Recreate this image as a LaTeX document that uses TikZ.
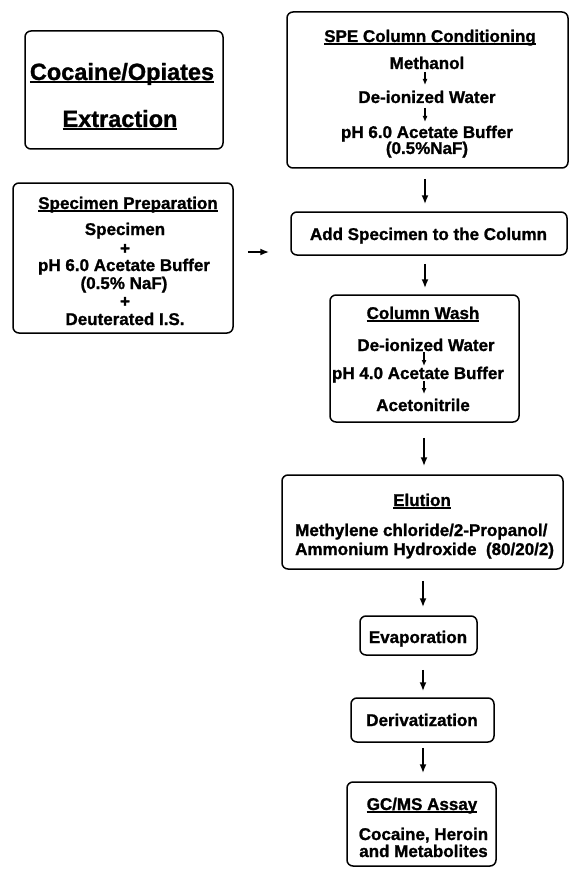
\documentclass[tikz,border=0pt]{standalone}
\usepackage{fontspec}
\setmainfont{Liberation Sans}[BoldFeatures={FakeBold=1.2}]
\usetikzlibrary{arrows.meta}
\newcommand\ulx[3]{\setbox0\hbox{#3}\rlap{\rule[#1]{\wd0}{#2}}\box0}
\tikzset{
  boxx/.style={draw, line width=1.5pt, rounded corners=6pt, inner sep=0pt},
  txt/.style={font=\bfseries\fontsize{17}{17}\selectfont, anchor=base, inner sep=0pt},
  ttl/.style={font=\bfseries\fontsize{23.5}{24}\selectfont, anchor=base, inner sep=0pt},
  bigarr/.style={line width=1.9pt, -{Latex[length=9pt,width=7pt]}},
  smallarr/.style={line width=1.3pt, -{Latex[length=6pt,width=5pt]}}
}
\begin{document}
\begin{tikzpicture}[x=1pt,y=-1pt]
\useasboundingbox (0,0) rectangle (569,869);
% title
\node[boxx, minimum width=198pt, minimum height=118pt] (title) at (124,90) {};
\node[ttl] (t1) at (122,80) {\ulx{-3.5pt}{2.2pt}{Cocaine/Opiates}};
\node[ttl] (t2) at (120,127) {\ulx{-3.5pt}{2.2pt}{Extraction}};
% SPE conditioning
\node[boxx, minimum width=281pt, minimum height=156pt] (spe) at (427.5,90) {};
\node[txt] (s0) at (430,42) {\ulx{-2.8pt}{1.5pt}{SPE Column Conditioning}};
\node[txt] (s1) at (427,69) {Methanol};
\node[txt] (s2) at (427,103) {De-ionized Water};
\node[txt] (s3) at (427,138) {pH 6.0 Acetate Buffer};
\node[txt] (s4) at (427,154) {(0.5\%NaF)};
\draw[smallarr, shorten <=3pt, shorten >=18pt] (s1.base -| 425,0) -- (s2.base -| 425,0);
\draw[smallarr, shorten <=5pt, shorten >=16pt] (s2.base -| 425,0) -- (s3.base -| 425,0);
% Add specimen
\node[boxx, minimum width=276pt, minimum height=43pt] (add) at (429,233.5) {};
\node[txt] (a1) at (428.5,240) {Add Specimen to the Column};
% specimen preparation
\node[boxx, minimum width=220pt, minimum height=150pt] (spec) at (123,258) {};
\node[txt] (p0) at (128,209) {\ulx{-2.8pt}{1.5pt}{Specimen Preparation}};
\node[txt] (p1) at (125,235) {Specimen};
\node[txt] (p2) at (125,254) {+};
\node[txt] (p3) at (124,271) {pH 6.0 Acetate Buffer};
\node[txt] (p4) at (124,289) {(0.5\% NaF)};
\node[txt] (p5) at (125,307) {+};
\node[txt] (p6) at (125,325) {Deuterated I.S.};
% column wash
\node[boxx, minimum width=189pt, minimum height=127pt] (wash) at (424.5,358.5) {};
\node[txt] (w0) at (423,319) {\ulx{-2.8pt}{1.5pt}{Column Wash}};
\node[txt] (w1) at (426,351) {De-ionized Water};
\node[txt] (w2) at (418,379) {pH 4.0 Acetate Buffer};
\node[txt] (w3) at (423,411) {Acetonitrile};
\draw[smallarr, shorten <=1pt, shorten >=13pt] (w1.base -| 424,0) -- (w2.base -| 424,0);
\draw[smallarr, shorten <=2pt, shorten >=17pt] (w2.base -| 424,0) -- (w3.base -| 424,0);
% elution
\node[boxx, minimum width=281pt, minimum height=94pt] (elu) at (422.5,522) {};
\node[txt] (e0) at (422,506) {\ulx{-2.8pt}{1.5pt}{Elution}};
\node[txt, anchor=base west] (e1) at (295,536) {Methylene chloride/2-Propanol/};
\node[txt, anchor=base west] (e2) at (295,555) {Ammonium Hydroxide\ \ (80/20/2)};
% evaporation
\node[boxx, minimum width=117pt, minimum height=39pt] (evap) at (418.5,635.5) {};
\node[txt] (v1) at (418,643) {Evaporation};
% derivatization
\node[boxx, minimum width=143pt, minimum height=44pt] (der) at (422.5,720) {};
\node[txt] (d1) at (422,726) {Derivatization};
% GC/MS
\node[boxx, minimum width=149pt, minimum height=84pt] (gc) at (421.5,824) {};
\node[txt] (g0) at (422,810) {\ulx{-2.8pt}{1.5pt}{GC/MS Assay}};
\node[txt] (g1) at (423.5,840) {Cocaine, Heroin};
\node[txt] (g2) at (423.5,857) {and Metabolites};
% main arrows
\draw[bigarr, shorten <=10pt, shorten >=7pt] (spe.south -| 425,0) -- (add.north -| 425,0);
\draw[bigarr, shorten <=8pt, shorten >=6pt] (add.south -| 425,0) -- (wash.north -| 425,0);
\draw[bigarr, shorten <=15pt, shorten >=8pt] (wash.south -| 424,0) -- (elu.north -| 424,0);
\draw[bigarr, shorten <=11pt, shorten >=8pt] (elu.south -| 423,0) -- (evap.north -| 423,0);
\draw[bigarr, shorten <=14pt, shorten >=6pt] (evap.south -| 423,0) -- (der.north -| 423,0);
\draw[bigarr, shorten <=5pt, shorten >=8pt] (der.south -| 423,0) -- (gc.north -| 423,0);
\draw[bigarr, shorten <=14pt, shorten >=21pt] (spec.east |- 0,252) -- (add.west |- 0,252);
\end{tikzpicture}
\end{document}
